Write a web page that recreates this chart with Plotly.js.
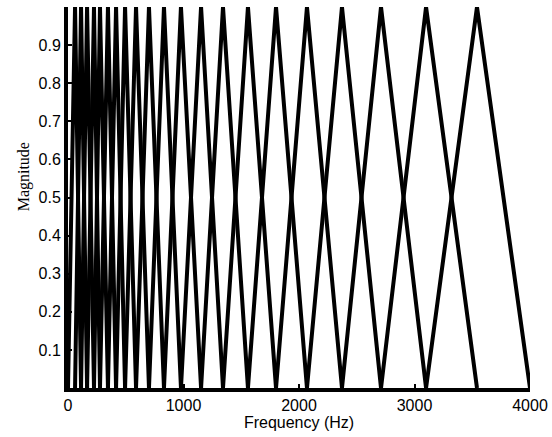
<!DOCTYPE html>
<html>
<head>
<meta charset="utf-8">
<script src="https://cdn.plot.ly/plotly-3.0.1.min.js"></script>
<style>html,body{margin:0;padding:0;background:#fff;}#chart{width:552px;height:437px;}</style>
</head>
<body>
<div id="chart"></div>
<script>
// Filter edge/center frequencies (Hz)
var edgeFrequencies = [0, 61, 113, 165, 225, 277, 346, 416, 494, 589, 701, 831, 978,
  1152, 1342, 1558, 1801, 2069, 2372, 2710, 3100, 3541, 4000];
var triangleShape = [0, 1, 0];
var xTickValues = [0, 1000, 2000, 3000, 4000];
var xTickLabels = ['0', '1000', '2000', '3000', '4000'];
var yTickValues = [0.1, 0.2, 0.3, 0.4, 0.5, 0.6, 0.7, 0.8, 0.9];
var yTickLabels = ['0.1', '0.2', '0.3', '0.4', '0.5', '0.6', '0.7', '0.8', '0.9'];

var traces = [];
for (var i = 1; i < edgeFrequencies.length - 1; i++) {
  traces.push({
    x: [edgeFrequencies[i - 1], edgeFrequencies[i], edgeFrequencies[i + 1]],
    y: triangleShape,
    type: 'scatter',
    mode: 'lines',
    line: {color: '#000', width: 4},
    showlegend: false,
    hoverinfo: 'skip'
  });
}

var layout = {
  width: 552, height: 437,
  margin: {l: 68, r: 22, t: 7, b: 49},
  paper_bgcolor: '#fff', plot_bgcolor: '#fff',
  font: {family: 'Liberation Sans, Arial, sans-serif', color: '#000', size: 16},
  showlegend: false,
  hovermode: false,
  xaxis: {
    range: [0, 4000], tickvals: xTickValues, ticktext: xTickLabels,
    showgrid: false, zeroline: false, showline: true, linecolor: '#000', linewidth: 4,
    ticks: 'inside', ticklen: 4, tickwidth: 2, tickcolor: '#000',
    tickfont: {size: 16, color: '#000'},
    title: {text: 'Frequency (Hz)', font: {size: 16, color: '#000'}, standoff: 5},
    automargin: false, fixedrange: true
  },
  yaxis: {
    range: [0, 1], tickvals: yTickValues, ticktext: yTickLabels,
    showgrid: false, zeroline: false, showline: true, linecolor: '#000', linewidth: 4,
    ticks: 'inside', ticklen: 4, tickwidth: 2, tickcolor: '#000',
    tickfont: {size: 16, color: '#000'},
    automargin: false, fixedrange: true
  },
  annotations: [{
    text: 'Magnitude', textangle: -90, showarrow: false,
    xref: 'paper', yref: 'paper', x: -0.1, xshift: 2, y: 0.555, xanchor: 'center', yanchor: 'middle',
    font: {family: 'Liberation Serif, Times New Roman, serif', size: 16, color: '#000'}
  }]
};

Plotly.newPlot('chart', traces, layout, {displayModeBar: false, staticPlot: true});
</script>
</body>
</html>
